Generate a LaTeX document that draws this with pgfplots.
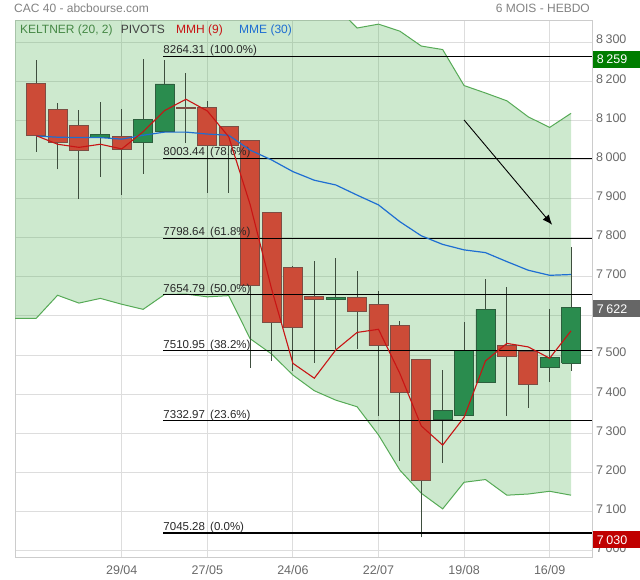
\documentclass[border=0pt]{standalone}
\usepackage{pgfplots}
\pgfplotsset{compat=1.18}
\usepackage{pgfplotstable}
\usetikzlibrary{arrows.meta}
\usepackage{fontspec}
\setmainfont{Liberation Sans}

\definecolor{kline}{RGB}{86,170,86}
\definecolor{kfill}{RGB}{76,175,80}
\definecolor{candred}{RGB}{204,75,55}
\definecolor{candredb}{RGB}{125,78,68}
\definecolor{candgreen}{RGB}{42,140,78}
\definecolor{candgreenb}{RGB}{45,95,62}
\definecolor{wick}{RGB}{62,78,62}
\definecolor{mmh}{RGB}{200,20,20}
\definecolor{mme}{RGB}{30,110,210}
\definecolor{gridc}{RGB}{221,221,221}
\definecolor{boxc}{RGB}{204,204,204}
\definecolor{labc}{RGB}{105,105,105}
\definecolor{titc}{RGB}{130,130,130}
\definecolor{pivc}{RGB}{40,40,40}
\definecolor{boxgreen}{RGB}{0,125,0}
\definecolor{boxgray}{RGB}{102,102,102}
\definecolor{boxred}{RGB}{192,0,0}

\newcommand\ts{\hspace{2.6pt}}

% weekly candles: open, high, low, close, plus the two averages
\pgfplotstableread{
i O H L C mmh mme
0 8195 8254 8020 8061 8061 8060
1 8128 8145 7975 8044 8039 8057
2 8087 8126 7900 8023 8031 8056
3 8056 8147 7956 8064 8039 8056
4 8059 8128 7910 8027 8027 8052
5 8043 8258 7963 8102 8071 8062
6 8073 8254 8073 8193 8125 8070
7 8132.5 8221 8043 8131.5 8154 8070
8 8133 8150 7915 8035 8124 8065
9 8085 8085 7915 8037 8058 8062
10 8049 8049 7468 7678 7885 8024
11 7865 7865 7486 7584 7670 7999
12 7724 7728 7460 7572 7479 7969
13 7650 7740 7480 7642 7441 7947
14 7643 7748 7515 7648 7513 7935
15 7648 7715 7516 7611 7558 7909
16 7630 7664 7345 7524 7566 7884
17 7576 7587 7230 7404 7453 7841
18 7489 7489 7034 7180 7319 7805
19 7336 7462 7225 7359 7270 7783
20 7345 7585 7345 7511 7341 7769
21 7429 7694 7429 7617 7485 7762
22 7525 7674 7345 7498 7530 7739
23 7510 7510 7366 7424 7521 7717
24 7469 7618 7431 7494 7492 7704
25 7480 7777 7460 7622 7562 7706
}\ohlc

% Keltner (20, 2) channel
\pgfplotstableread{
i up lo
-1 8420 7594
0 8420 7594
1 8420 7653
2 8420 7633
3 8420 7645
4 8420 7630
5 8420 7617
6 8420 7655
7 8420 7656
8 8420 7649
9 8420 7652
10 8420 7542
11 8420 7503
12 8420 7449
13 8420 7409
14 8392 7385
15 8336 7368
16 8346 7296
17 8328 7206
18 8290 7147
19 8281 7107
20 8189 7175
21 8170 7182
22 8150 7142
23 8109 7145
24 8082 7152
25 8118 7142
}\band

\newcommand\candle[1]{%
  \pgfplotstablegetelem{#1}{O}\of\ohlc\edef\vO{\pgfplotsretval}%
  \pgfplotstablegetelem{#1}{H}\of\ohlc\edef\vH{\pgfplotsretval}%
  \pgfplotstablegetelem{#1}{L}\of\ohlc\edef\vL{\pgfplotsretval}%
  \pgfplotstablegetelem{#1}{C}\of\ohlc\edef\vC{\pgfplotsretval}%
  \pgfmathsetmacro\xa{#1-0.444}%
  \pgfmathsetmacro\xb{#1+0.444}%
  \ifdim\vC pt<\vO pt \def\cc{candred}\def\cb{candredb}\else\def\cc{candgreen}\def\cb{candgreenb}\fi
  \edef\tmp{%
    \noexpand\addplot[wick, line width=1pt, forget plot] coordinates {(#1,\vL) (#1,\vH)};
    \noexpand\addplot[fill=\cc, draw=\cb, line width=0.8pt, forget plot]
      coordinates {(\xa,\vO) (\xb,\vO) (\xb,\vC) (\xa,\vC) (\xa,\vO)};}%
  \tmp}

\newcommand\pivot[2]{%
  \addplot[black, line width=1.1pt, forget plot] coordinates {(5.94,#1) (25.98,#1)};
  \node[anchor=base west, inner sep=0pt, text=pivc, font=\fontsize{11.5}{13}\selectfont]
    at (axis cs:5.94,#1) [yshift=2.4pt] {#1\hspace{0.45em}(#2\%)};}

\begin{document}
\begin{tikzpicture}
\begin{axis}[
  at={(15pt,-21pt)}, anchor=north west,
  scale only axis, width=577pt, height=536pt,
  xmin=-0.99, xmax=25.98, ymin=6984, ymax=8354,
  axis line style={draw=boxc, line width=1pt},
  xtick={4,8,12,16,20,24},
  xticklabels={29/04,27/05,24/06,22/07,19/08,16/09},
  ytick={7000,7100,...,8300},
  yticklabels={7\ts000,7\ts100,7\ts200,7\ts300,7\ts400,7\ts500,{},7\ts700,7\ts800,7\ts900,8\ts000,8\ts100,8\ts200,8\ts300},
  yticklabel pos=right,
  major tick length=0pt,
  grid=major,
  major grid style={draw=gridc, line width=1pt},
  tick label style={font=\fontsize{12.5}{14}\selectfont, text=labc},
  xticklabel style={yshift=-4.5pt},
  yticklabel style={xshift=0.5pt, yshift=2.5pt},
]
% channel area: upper band left to right, lower band right to left
\addplot[draw=none, fill=kfill, fill opacity=0.28, forget plot] coordinates {
  (-1,8420) (13,8420) (14,8392) (15,8336) (16,8346) (17,8328) (18,8290)
  (19,8281) (20,8189) (21,8170) (22,8150) (23,8109) (24,8082) (25,8118)
  (25,7142) (24,7152) (23,7145) (22,7142) (21,7182) (20,7175) (19,7107)
  (18,7147) (17,7206) (16,7296) (15,7368) (14,7385) (13,7409) (12,7449)
  (11,7503) (10,7542) (9,7652) (8,7649) (7,7656) (6,7655) (5,7617)
  (4,7630) (3,7645) (2,7633) (1,7653) (0,7594) (-1,7594) (-1,8420)};
\addplot[kline, line width=1pt] table[x=i, y=up] {\band};
\addplot[kline, line width=1pt] table[x=i, y=lo] {\band};

\pgfplotsinvokeforeach{0,...,25}{\candle{#1}}

\pivot{8264.31}{100.0}
\pivot{8003.44}{78.6}
\pivot{7798.64}{61.8}
\pivot{7654.79}{50.0}
\pivot{7510.95}{38.2}
\pivot{7332.97}{23.6}
\pivot{7045.28}{0.0}

\addplot[mme, line width=1.2pt] table[x=i, y=mme] {\ohlc};
\addplot[mmh, line width=1.1pt] table[x=i, y=mmh] {\ohlc};

\addplot[black, line width=0.9pt, -{Latex[length=10pt, width=8pt]}]
  coordinates {(20,8101) (24.12,7833)};
\end{axis}

% header and legend
\node[anchor=base west, inner sep=0pt, text=titc, font=\fontsize{12}{14}\selectfont]
  at (14pt,-12.5pt) {CAC 40 - abcbourse.com};
\node[anchor=base east, inner sep=0pt, text=titc, font=\fontsize{12}{14}\selectfont]
  at (590pt,-12.5pt) {6 MOIS - HEBDO};
\node[anchor=base west, inner sep=0pt, text=kline!80!black, font=\fontsize{12}{14}\selectfont]
  at (20pt,-33.3pt) {KELTNER (20, 2)};
\node[anchor=base west, inner sep=0pt, text=black!75, font=\fontsize{12}{14}\selectfont]
  at (120.7pt,-33.3pt) {PIVOTS};
\node[anchor=base west, inner sep=0pt, text=mmh, font=\fontsize{12}{14}\selectfont]
  at (176pt,-33.3pt) {MMH (9)};
\node[anchor=base west, inner sep=0pt, text=mme, font=\fontsize{12}{14}\selectfont]
  at (239pt,-33.3pt) {MME (30)};

% value tags on the right
\fill[boxgreen] (593.3pt,-51pt) rectangle (640pt,-67.7pt);
\node[anchor=base west, inner sep=0pt, text=white, font=\fontsize{12.5}{14}\selectfont]
  at (596.7pt,-64pt) {8\ts259};
\fill[boxgray] (593.3pt,-300pt) rectangle (640pt,-316.7pt);
\node[anchor=base west, inner sep=0pt, text=white, font=\fontsize{12.5}{14}\selectfont]
  at (596.7pt,-313.3pt) {7\ts622};
\fill[boxred] (593.3pt,-531pt) rectangle (640pt,-547.7pt);
\node[anchor=base west, inner sep=0pt, text=white, font=\fontsize{12.5}{14}\selectfont]
  at (596.7pt,-544pt) {7\ts030};

\path (0pt,0pt) (640pt,-580pt);
\end{tikzpicture}
\end{document}
